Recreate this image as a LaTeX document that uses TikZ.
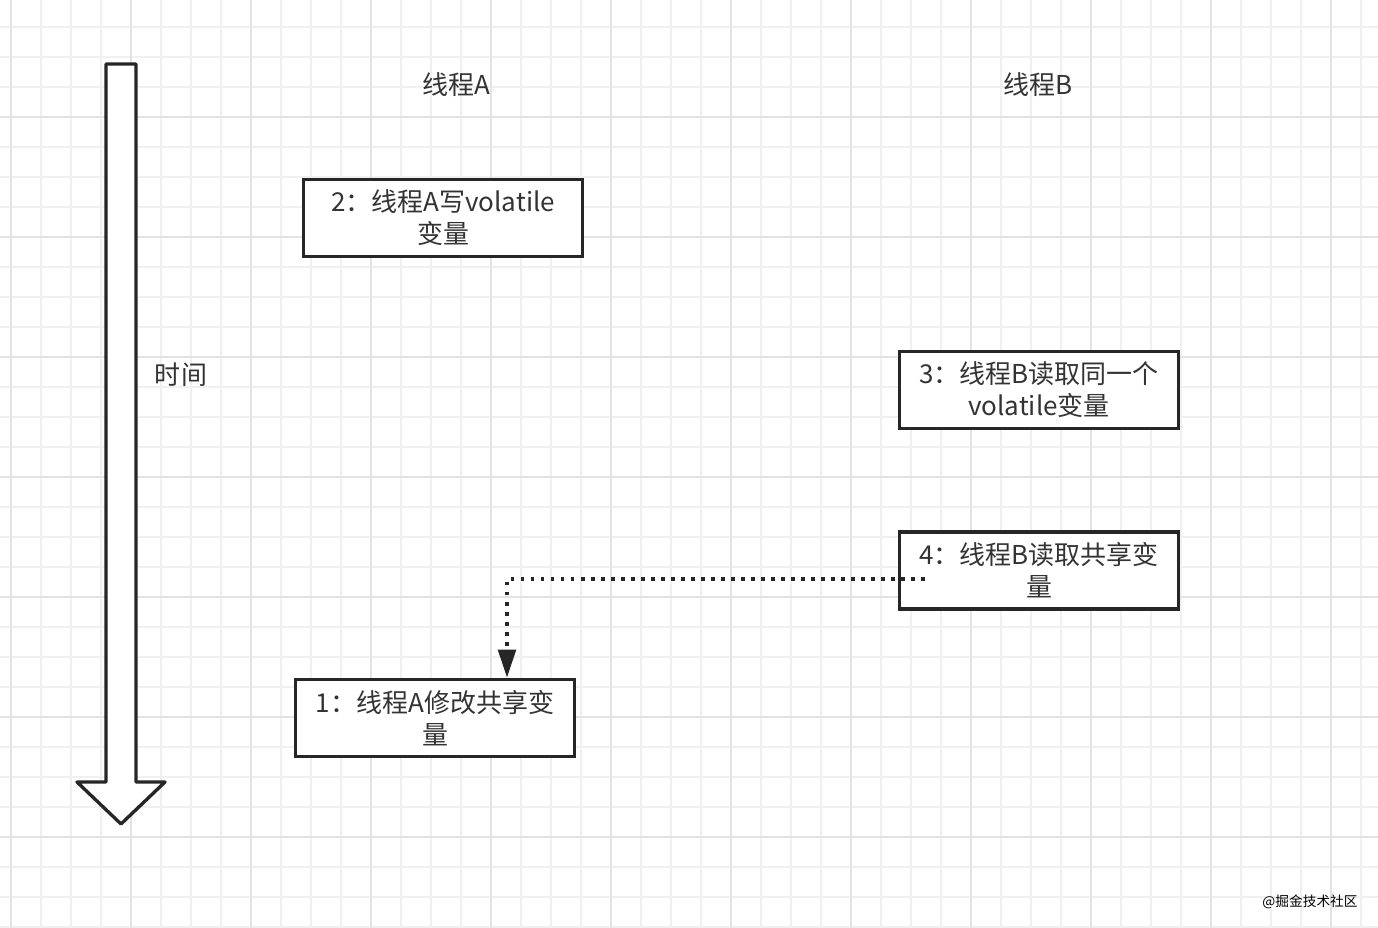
\documentclass[tikz,border=0pt]{standalone}
\usepackage{fontspec}
\setmainfont{Noto Sans CJK SC}
\usetikzlibrary{positioning, arrows.meta}
\definecolor{gridminor}{HTML}{F0F0F0}
\definecolor{gridmajor}{HTML}{E3E3E3}
\definecolor{ink}{HTML}{333333}
\definecolor{edge}{HTML}{262626}

\begin{document}
\begin{tikzpicture}[
  x=0.02cm, y=-0.02cm,
  >={Triangle[length=16pt, width=10pt]},
  font=\fontsize{14.8}{18.2}\selectfont, text=ink,
  stepbox/.style = {draw=edge, line width=2.1pt, fill=white, rectangle, align=center,
                    minimum width=5.58cm, minimum height=1.54cm, inner sep=0pt},
  lane/.style    = {inner sep=0pt},
  flow/.style    = {draw=edge, line width=2.2pt, dash pattern=on 2.2pt off 3.5pt},
]
  \fill[white] (0,0) rectangle (1378,928);
  \useasboundingbox (0,0) rectangle (1378,928);

  \foreach \gx in {11,41,...,1378} \draw[gridminor, line width=0.7pt] (\gx,0) -- (\gx,928);
  \foreach \gy in {27,57,...,928}  \draw[gridminor, line width=0.7pt] (0,\gy) -- (1378,\gy);
  \foreach \gx in {11,131,...,1378} \draw[gridmajor, line width=0.7pt] (\gx,0) -- (\gx,928);
  \foreach \gy in {117,237,...,928} \draw[gridmajor, line width=0.7pt] (0,\gy) -- (1378,\gy);

  \draw[edge, fill=white, line width=1.9pt, line join=round]
    (106,64) -- (136,64) -- (136,782) -- (165,782) -- (121,824) -- (77,782) -- (106,782) -- cycle;

  \node[lane] (ta)   at (456,85)  {线程A};
  \node[lane] (tb)   at (1038,85) {线程B};
  \node[lane] (time) at (181,375) {时间};

  \node[stepbox]                  (w2) at (443,218)  {2：线程A写volatile\\变量};
  \node[stepbox]                  (r3) at (1039,390) {3：线程B读取同一个\\volatile变量};
  \node[stepbox, below=2cm of r3] (r4)               {4：线程B读取共享变\\量};
  \node[stepbox]                  (w1) at (435,718)  {1：线程A修改共享变\\量};

  \coordinate (dstart) at (925,579);
  \coordinate (bend)   at (507,579);
  \draw[flow, ->] (dstart) -- (bend) -- (bend |- w1.north);

  \node[lane, font=\fontsize{7.8}{9}\selectfont, text=black] (mark) at (1310,902) {@掘金技术社区};
\end{tikzpicture}
\end{document}
